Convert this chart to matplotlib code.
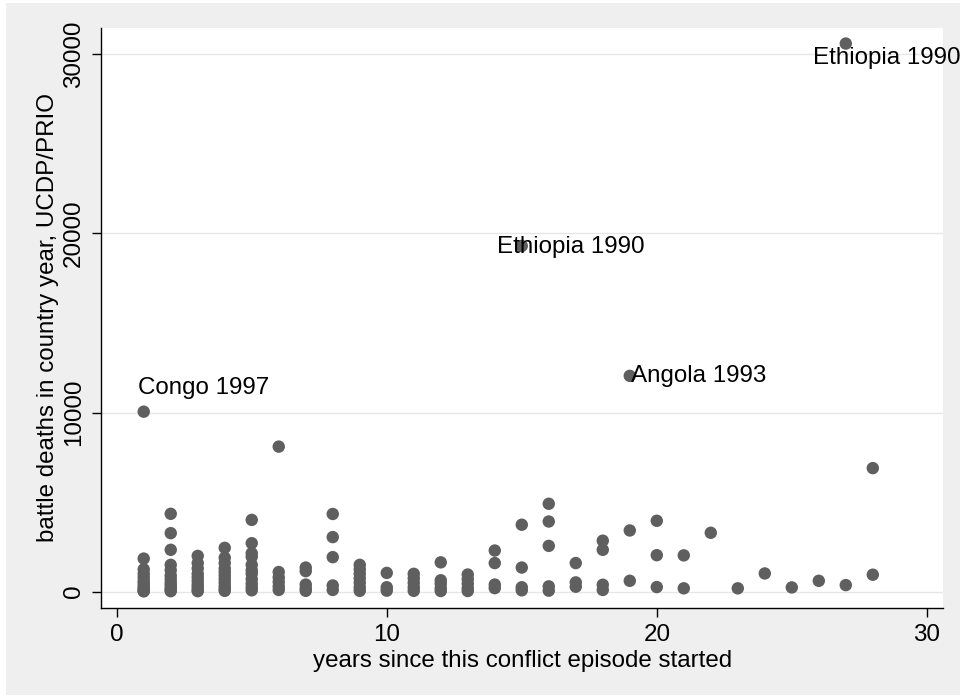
import matplotlib.pyplot as plt

plt.rcParams['font.family'] = ['Liberation Sans', 'DejaVu Sans']

# conflict years and battle deaths, one entry per country year
years = (
    [1] * 12 + [2] * 12 + [3] * 10 + [4] * 11 + [5] * 11 + [6] * 6
    + [7] * 5 + [8] * 5 + [9] * 7 + [10] * 3 + [11] * 5 + [12] * 5
    + [13] * 5 + [14] * 4 + [15] * 5 + [16] * 5 + [17] * 3 + [18] * 4
    + [19] * 3 + [20] * 3 + [21] * 2 + [22, 23, 24, 25, 26] + [27] * 2 + [28] * 2
)
deaths = [
    10050, 1850, 1250, 1000, 800, 600, 450, 300, 200, 100, 50, 20,
    4350, 3270, 2340, 1500, 1200, 900, 700, 500, 350, 200, 100, 30,
    2000, 1600, 1300, 1000, 800, 600, 400, 250, 100, 30,
    2450, 1900, 1600, 1300, 1100, 900, 700, 500, 300, 150, 50,
    4010, 2710, 2150, 1950, 1500, 1200, 1000, 700, 450, 250, 80,
    8100, 1100, 800, 550, 300, 100,
    1350, 1150, 400, 200, 50,
    4340, 3050, 1930, 350, 100,
    1500, 1250, 1000, 750, 500, 250, 50,
    1050, 250, 60,
    1000, 750, 500, 250, 50,
    1640, 640, 450, 200, 40,
    960, 700, 450, 200, 40,
    2300, 1600, 400, 200,
    19300, 3740, 1350, 250, 80,
    4910, 3920, 2560, 300, 60,
    1600, 520, 280,
    2850, 2340, 390, 100,
    12050, 3420, 610,
    3960, 2040, 260,
    2030, 190,
    3290, 190, 1020, 240, 610,
    30600, 370,
    6900, 950,
]

# labelled outliers: (year, deaths, text, offset in points)
labels = [
    (1, 10050, 'Congo 1997', (-4, 12.7)),
    (15, 19300, 'Ethiopia 1990', (-17.5, -4.8)),
    (19, 12050, 'Angola 1993', (0.7, -4.2)),
    (27, 30600, 'Ethiopia 1990', (-23.3, -14.8)),
]

fs = 17.4

fig = plt.figure(figsize=(9.66, 7.0), dpi=100)
fig.patch.set_facecolor('white')
fig.patches.append(plt.Rectangle((6 / 966, 5 / 700), 954 / 966, 692 / 700,
                                 transform=fig.transFigure, facecolor='#efefef',
                                 edgecolor='none', zorder=-10))

ax = fig.add_axes([0.1049, 0.1321, 0.8713, 0.8279])
ax.set_facecolor('white')

ax.scatter(years, deaths, s=80, c='#5f5f5f', edgecolors='none', zorder=3)

for x, y, text, off in labels:
    ax.annotate(text, (x, y), xytext=off, textcoords='offset points',
                ha='left', va='baseline', fontsize=fs, color='black', zorder=4)

ax.set_xlim(-0.57, 30.6)
ax.set_ylim(-882, 31468)
ax.set_xticks([0, 10, 20, 30])
ax.set_yticks([0, 10000, 20000, 30000])
ax.set_yticklabels(['0', '10000', '20000', '30000'], rotation=90, va='center')

ax.grid(axis='y', color='#e6e6e6', linewidth=1.0, zorder=0)
ax.set_axisbelow(True)

for side in ['top', 'right']:
    ax.spines[side].set_visible(False)
for side in ['left', 'bottom']:
    ax.spines[side].set_linewidth(1.0)
    ax.spines[side].set_color('black')

ax.tick_params(axis='both', direction='out', length=6.5, width=1.0,
               labelsize=fs, colors='black')
ax.tick_params(axis='y', pad=5.5)
ax.tick_params(axis='x', pad=5)

ax.set_xlabel('years since this conflict episode started', fontsize=fs, labelpad=3.5)
ax.set_ylabel('battle deaths in country year, UCDP/PRIO', fontsize=fs, labelpad=2.8)

fig.savefig('out.png', dpi=100, facecolor=fig.get_facecolor())
